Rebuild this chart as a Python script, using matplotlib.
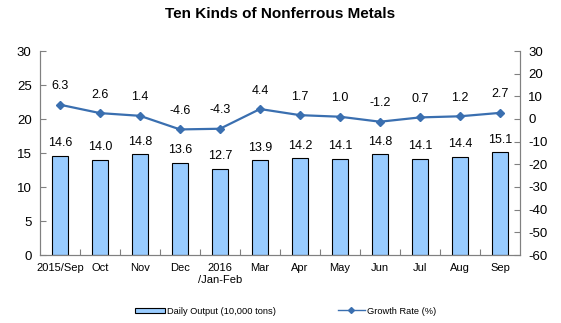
import matplotlib
matplotlib.use("Agg")
import matplotlib.pyplot as plt
from matplotlib.lines import Line2D
from matplotlib.patches import Patch

plt.rcParams['font.family'] = ['Liberation Sans', 'DejaVu Sans']
plt.rcParams['axes.unicode_minus'] = False

# Data
months = ['2015/Sep', 'Oct', 'Nov', 'Dec', '2016\n/Jan-Feb', 'Mar', 'Apr',
          'May', 'Jun', 'Jul', 'Aug', 'Sep']
daily_output = [14.6, 14.0, 14.8, 13.6, 12.7, 13.9, 14.2, 14.1, 14.8, 14.1, 14.4, 15.1]
growth_rate = [6.3, 2.6, 1.4, -4.6, -4.3, 4.4, 1.7, 1.0, -1.2, 0.7, 1.2, 2.7]

bar_color = '#99CCFF'
line_color = '#3A6FB0'
axis_color = '#808080'

fig = plt.figure(figsize=(5.61, 3.23), dpi=100)
ax = fig.add_axes([40 / 561, 1 - 255 / 323, 480 / 561, 204 / 323])
ax2 = ax.twinx()

x = list(range(len(months)))
ax.bar(x, daily_output, width=0.4, color=bar_color, edgecolor='black', linewidth=0.8, zorder=2)
for xi, v in zip(x, daily_output):
    ax.text(xi, v + 1.0, f'{v:.1f}', ha='center', va='bottom', fontsize=9)

ax2.plot(x, growth_rate, color=line_color, lw=1.6, marker='D', ms=4.5, zorder=3)
for xi, v in zip(x, growth_rate):
    ax2.text(xi, v + 5.5, f'{v:.1f}', ha='center', va='bottom', fontsize=9)

ax.set_xlim(-0.5, len(months) - 0.5)
ax.set_ylim(0, 30)
ax.set_yticks(range(0, 31, 5))
ax2.set_ylim(-60, 30)
ax2.set_yticks(range(-60, 31, 10))

# category ticks sit between bars
ax.set_xticks([i + 0.5 for i in x[:-1]], minor=False)
ax.set_xticklabels([])
ax.set_xticks(x, minor=True)
ax.set_xticklabels(months, minor=True, fontsize=8)
ax.tick_params(axis='x', which='major', direction='in', length=4, color=axis_color)
ax.tick_params(axis='x', which='minor', length=0, pad=6)

ax.tick_params(axis='y', direction='in', length=4, color=axis_color, labelsize=9.5, pad=6)
ax2.tick_params(axis='y', direction='in', length=4, color=axis_color, labelsize=9.5, pad=6)

for a in (ax, ax2):
    a.spines['top'].set_visible(False)
    for s in ('left', 'right', 'bottom'):
        a.spines[s].set_color(axis_color)

fig.text(0.5, 1 - 14 / 323, 'Ten Kinds of Nonferrous Metals', ha='center', va='center',
         fontsize=11, fontweight='bold')

# two separate legend entries along the bottom
leg_y = 1 - 311 / 323
fig.legend([Patch(facecolor=bar_color, edgecolor='black', linewidth=0.8)],
           ['Daily Output (10,000 tons)'], loc='center left',
           bbox_to_anchor=(135 / 561, leg_y), frameon=False, fontsize=6.7,
           borderpad=0, borderaxespad=0, handlelength=3.2, handleheight=0.45,
           handletextpad=0.25)
fig.legend([Line2D([0], [0], color=line_color, lw=1, marker='D', ms=3)],
           ['Growth Rate (%)'], loc='center left',
           bbox_to_anchor=(338 / 561, leg_y), frameon=False, fontsize=6.7,
           borderpad=0, borderaxespad=0, handlelength=2.9, handletextpad=0.25)

fig.savefig('out.png', dpi=100)
